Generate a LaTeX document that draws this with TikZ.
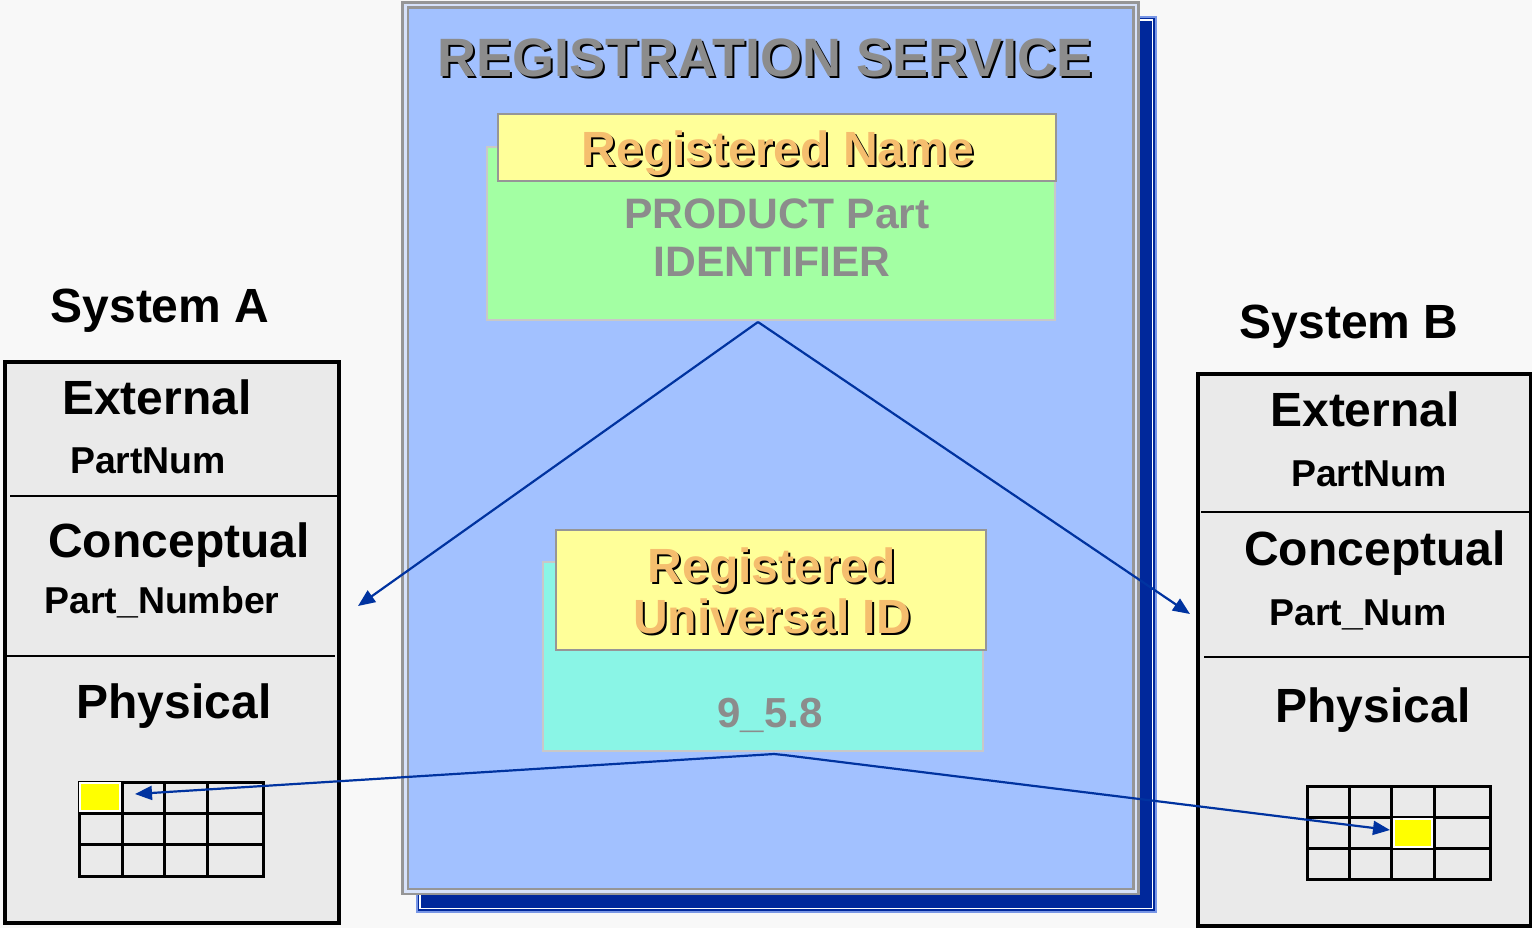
\documentclass[tikz,border=0pt]{standalone}
\usepackage{fontspec}
\setmainfont{Liberation Sans}
\usetikzlibrary{arrows.meta,calc}
\definecolor{bg}{RGB}{248,248,248}
\definecolor{panelblue}{RGB}{162,193,255}
\definecolor{panelgap}{RGB}{215,226,250}
\definecolor{shadowblue}{RGB}{0,40,155}
\definecolor{shadowedge}{RGB}{120,150,230}
\definecolor{framegray}{RGB}{150,150,150}
\definecolor{namegreen}{RGB}{163,255,163}
\definecolor{idcyan}{RGB}{138,245,230}
\definecolor{lightyellow}{RGB}{255,255,153}
\definecolor{orangetext}{RGB}{245,190,110}
\definecolor{graytext}{RGB}{140,140,140}
\definecolor{boxgray}{RGB}{234,234,234}
\definecolor{arrowblue}{RGB}{0,51,160}
\definecolor{cellyellow}{RGB}{255,255,0}
\definecolor{softgray}{RGB}{200,200,200}
\newcommand{\fsz}[1]{\fontsize{#1}{#1}\selectfont\bfseries}
\newcommand{\shadowed}[6]{%
  \node[lbl, text=black, font=\fsz{#4}] at (#2+2,#3+2) {#6};
  \node[lbl, text=#5, font=\fsz{#4}] (#1) at (#2,#3) {#6};}
\begin{document}
\begin{tikzpicture}[x=0.5pt,y=-0.5pt,
  lbl/.style={anchor=base, inner sep=0pt, outer sep=0pt},
  sysbox/.style={fill=boxgray, draw=black, line width=1.6pt},
  divider/.style={draw=black, line width=1.4pt},
  gridline/.style={draw=black, line width=1.5pt},
  yellowcell/.style={fill=cellyellow, draw=white, line width=1pt},
  headbox/.style={fill=lightyellow, draw=framegray, line width=1.2pt},
  conn/.style={draw=arrowblue, line width=1.1pt, -{Triangle[length=8.5pt,width=7pt]}},
  plain/.style={draw=arrowblue, line width=1.1pt}]
\useasboundingbox (0,0) rectangle (1532,928);
\fill[bg] (0,0) rectangle (1532,928);

% registration service panel
\draw[fill=shadowblue, draw=shadowedge, line width=0.6pt] (417,17) rectangle (1156,912);
\draw[white, line width=0.8pt] (420,20) rectangle (1152.5,908.5);
\draw[fill=panelgap, draw=framegray, line width=1.2pt] (402.5,2.5) rectangle (1138.5,894);
\draw[fill=panelblue, draw=framegray, line width=1.2pt] (408,7.5) rectangle (1133.5,889);
\shadowed{title}{765}{76}{27pt}{graytext}{REGISTRATION SERVICE}

% registered name
\draw[fill=namegreen, draw=softgray, line width=1.2pt] (487,147) rectangle (1055,320);
\draw[headbox] (498,114) rectangle (1056,181);
\shadowed{regname}{778}{165}{24pt}{orangetext}{Registered Name}
\node[lbl, text=graytext, font=\fsz{21.3pt}] (prod1) at (777,228) {PRODUCT Part};
\node[lbl, text=graytext, font=\fsz{21.3pt}] (prod2) at (772,276) {IDENTIFIER};

% registered universal id
\draw[fill=idcyan, draw=softgray, line width=1.2pt] (543,562) rectangle (983,751);
\draw[headbox] (556,530) rectangle (986,650);
\shadowed{regid1}{772}{582}{24pt}{orangetext}{Registered}
\shadowed{regid2}{772}{633}{24pt}{orangetext}{Universal ID}
\node[lbl, text=graytext, font=\fsz{21pt}] (idval) at (770,727) {9\_5.8};

% system A
\node[lbl, font=\fsz{24pt}] (sysA) at (160,322) {System A};
\draw[sysbox] (5,362) rectangle (339,923);
\draw[divider] (10,496) -- (339,496);
\draw[divider] (5,656) -- (335,656);
\node[lbl, font=\fsz{24pt}] (extA) at (157,414) {External};
\node[lbl, font=\fsz{18.7pt}] (extAv) at (148,473) {PartNum};
\node[lbl, font=\fsz{24pt}] (conA) at (179,557) {Conceptual};
\node[lbl, font=\fsz{18.7pt}] (conAv) at (162,613) {Part\_Number};
\node[lbl, font=\fsz{24pt}] (phyA) at (174,718) {Physical};
\draw[gridline] (79,782) rectangle (263,876);
\foreach \x in {122,164,207} \draw[gridline] (\x,782) -- (\x,876);
\foreach \y in {813,844} \draw[gridline] (79,\y) -- (263,\y);
\draw[yellowcell] (80,783) rectangle (120,811);

% system B
\node[lbl, font=\fsz{24pt}] (sysB) at (1349,338) {System B};
\draw[sysbox] (1198,374) rectangle (1531,926);
\draw[divider] (1201,512) -- (1531,512);
\draw[divider] (1204,657) -- (1531,657);
\node[lbl, font=\fsz{24pt}] (extB) at (1365,426) {External};
\node[lbl, font=\fsz{18.7pt}] (extBv) at (1369,486) {PartNum};
\node[lbl, font=\fsz{24pt}] (conB) at (1375,565) {Conceptual};
\node[lbl, font=\fsz{18.7pt}] (conBv) at (1358,625) {Part\_Num};
\node[lbl, font=\fsz{24pt}] (phyB) at (1373,722) {Physical};
\draw[gridline] (1307,786) rectangle (1490,879);
\foreach \x in {1349,1391,1434} \draw[gridline] (\x,786) -- (\x,879);
\foreach \y in {817,848} \draw[gridline] (1307,\y) -- (1490,\y);
\draw[yellowcell] (1393.5,819) rectangle (1432,846.5);

% connectors
\coordinate (topApex) at (758,322);
\coordinate (tipA) at (358,606);
\coordinate (tipB) at (1190,614);
\coordinate (botL) at (774,754);
\coordinate (botR) at (784,755);
\coordinate (cellA) at (135,794);
\coordinate (cellB) at (1390,830);
\draw[conn] (topApex) -- (tipA);
\draw[conn] (topApex) -- (tipB);
\draw[conn] (botL) -- (cellA);
\draw[plain] (botL) -- (botR);
\draw[conn] (botR) -- (cellB);
\end{tikzpicture}
\end{document}
